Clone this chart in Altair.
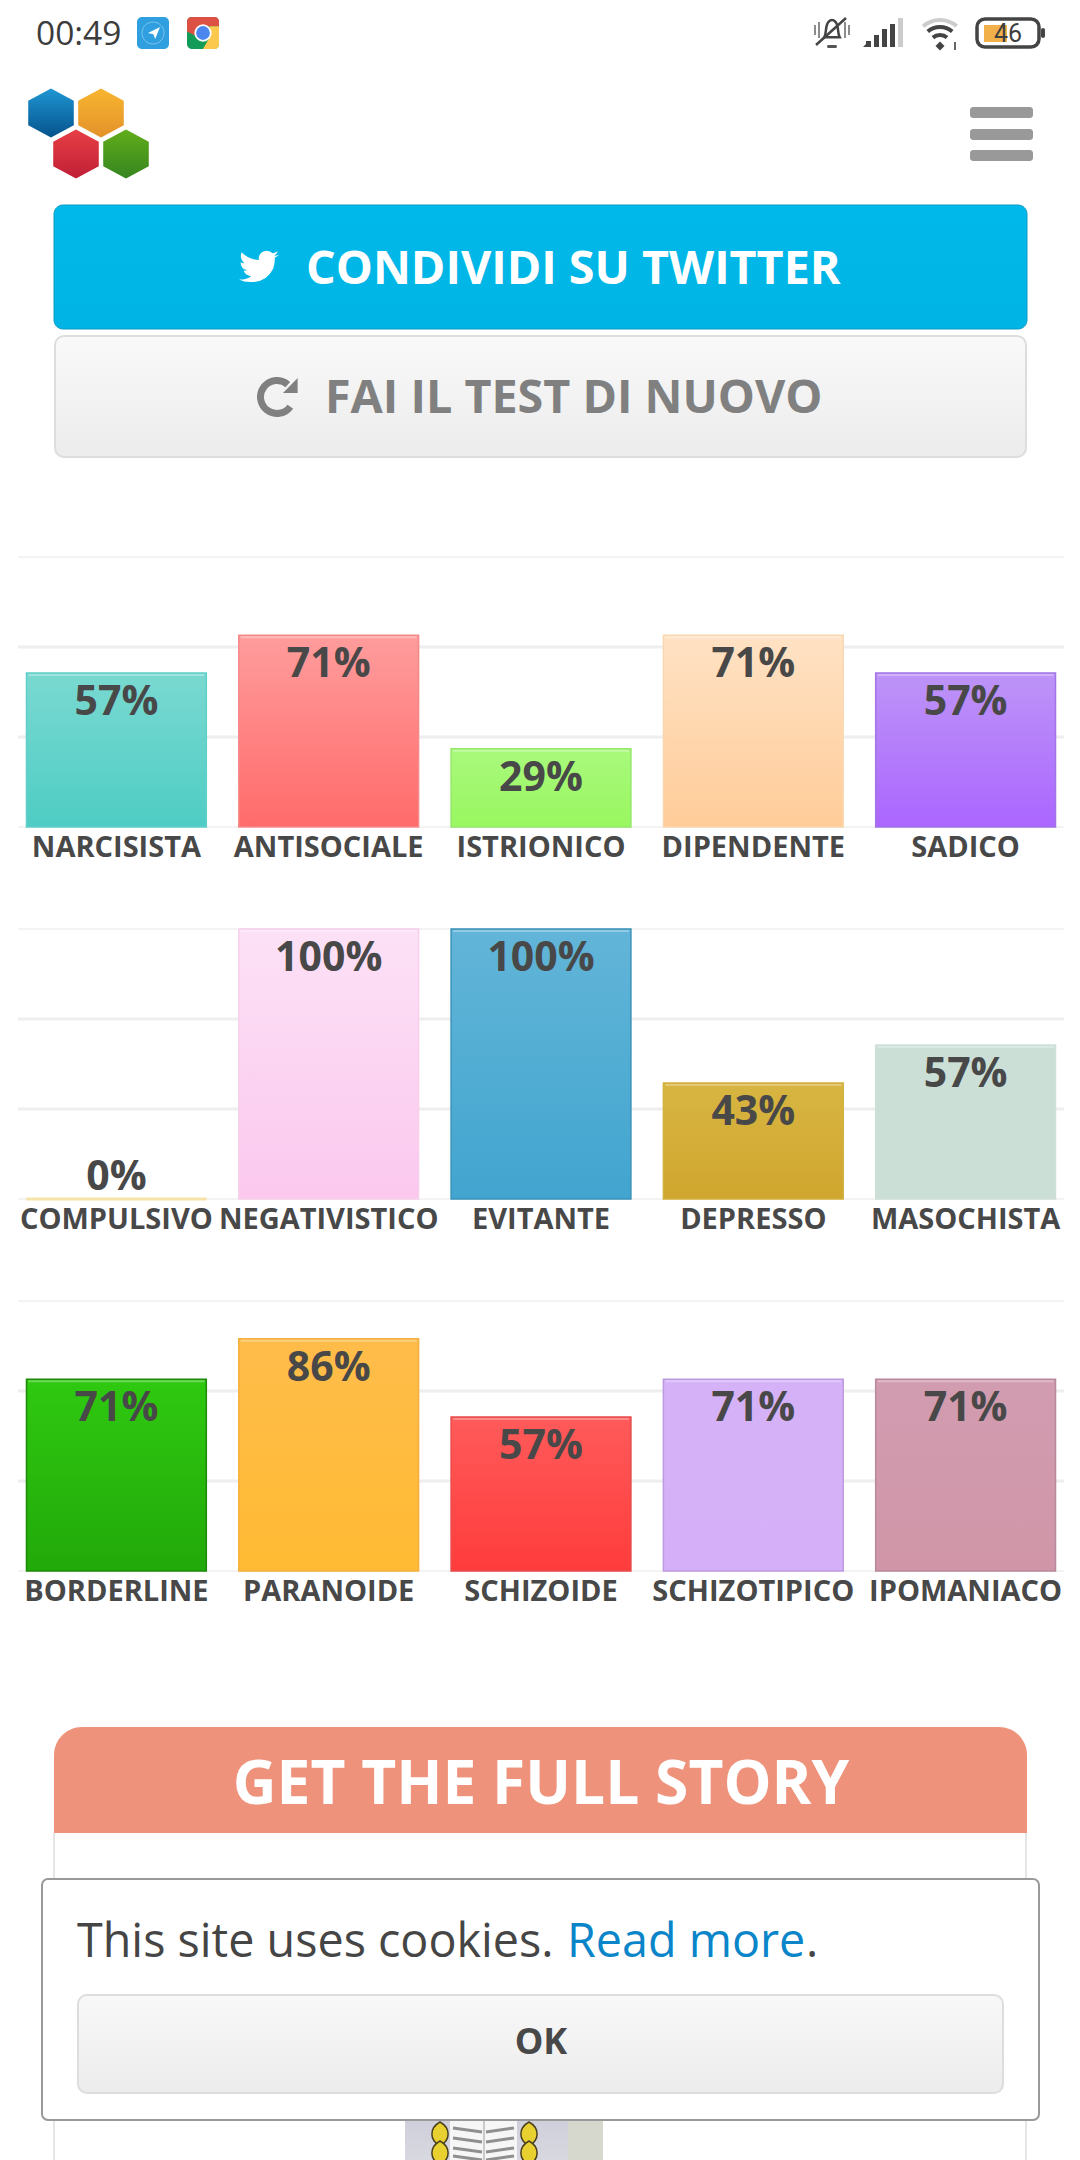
import re
import altair as alt
import pandas as pd

# ---- chart values -------------------------------------------------------
row1_cats = ["NARCISISTA", "ANTISOCIALE", "ISTRIONICO", "DIPENDENTE", "SADICO"]
row1_vals = [57, 71, 29, 71, 57]
row2_cats = ["COMPULSIVO", "NEGATIVISTICO", "EVITANTE", "DEPRESSO", "MASOCHISTA"]
row2_vals = [0, 100, 100, 43, 57]
row3_cats = ["BORDERLINE", "PARANOIDE", "SCHIZOIDE", "SCHIZOTIPICO", "IPOMANIACO"]
row3_vals = [71, 86, 57, 71, 71]

row1_top = ["#7ad9d1", "#ff9c9c", "#a9f97c", "#ffe2c4", "#bd94f7"]
row1_bot = ["#4ecdc4", "#ff6b6b", "#99f760", "#ffcc99", "#ab66ff"]
row1_line = ["#5fcfc7", "#f58a8a", "#93e86a", "#f8d8b0", "#a274e8"]
row2_top = ["#f5e3a8", "#fce1f6", "#62b5d8", "#d8b542", "#cbdfd7"]
row2_bot = ["#f5e3a8", "#fbc8ee", "#42a5cf", "#cfa62e", "#cbdfd7"]
row2_line = ["#f5e3a8", "#f8d0ec", "#3a92b8", "#d4b03c", "#cfe0d9"]
row3_top = ["#2fc910", "#ffbc4a", "#ff5a5a", "#d5b2f8", "#d29cb0"]
row3_bot = ["#22a90a", "#ffbb33", "#ff3c3c", "#d5b0f8", "#d096a8"]
row3_line = ["#1d8a0a", "#f5b040", "#e84a4a", "#bd9ae0", "#b8889c"]

grid_major = [33.33, 66.67]
grid_minor = [0, 100]

FONT = "Open Sans"
INK = "#484848"
PANEL_W = 1046
ORIGIN_X = 18


def grad(top, bottom):
    return alt.LinearGradient(
        gradient="linear", x1=0, x2=0, y1=0, y2=1,
        stops=[alt.GradientStop(color=top, offset=0), alt.GradientStop(color=bottom, offset=1)],
    )


def bar_panel(cats, vals, tops, bots, lines):
    df = pd.DataFrame({"cat": cats, "val": vals, "label": [f"{v}%" for v in vals]})
    x = alt.X(
        "cat:N", title=None, sort=cats,
        scale=alt.Scale(domain=cats, range=[0, PANEL_W], paddingInner=0.153, paddingOuter=0.04),
        axis=alt.Axis(
            labelFont=FONT, labelFontWeight="bold", labelFontSize=29, labelColor=INK,
            labelAngle=0, labelOverlap=False, labelLimit=400, labelPadding=6,
            ticks=False, domain=False, grid=False,
        ),
    )
    y = alt.Y("val:Q", title=None, axis=None, scale=alt.Scale(domain=[0, 100], nice=False))
    yg = alt.Y("g:Q", title=None, axis=None, scale=alt.Scale(domain=[0, 100], nice=False))
    layers = [
        alt.Chart(pd.DataFrame({"g": grid_minor})).mark_rule(color="#efefef", strokeWidth=1.5).encode(y=yg),
        alt.Chart(pd.DataFrame({"g": grid_major})).mark_rule(color="#eeeeee", strokeWidth=3).encode(y=yg),
    ]
    for i, c in enumerate(cats):
        d = df[df["cat"] == c]
        layers.append(
            alt.Chart(d).mark_bar(fill=grad(tops[i], bots[i]), stroke=lines[i], strokeWidth=1.5).encode(x=x, y=y)
        )
        if vals[i] > 0:
            layers.append(
                alt.Chart(d).mark_tick(color="#ffffff", opacity=0.3, thickness=2, size=176, yOffset=2).encode(x=x, y=y)
            )
        else:
            layers.append(
                alt.Chart(d).mark_tick(color=lines[i], opacity=1, thickness=3, size=180).encode(x=x, y=y)
            )
    txt = dict(font=FONT, fontWeight="bold", fontSize=41, color=INK, baseline="alphabetic", align="center")
    layers.append(alt.Chart(df[df["val"] >= 10]).mark_text(dy=42, **txt).encode(x=x, y=y, text="label:N"))
    layers.append(alt.Chart(df[df["val"] < 10]).mark_text(dy=-9, **txt).encode(x=x, y=y, text="label:N"))
    return alt.layer(*layers).properties(width=PANEL_W, height=270)


blank = alt.Data(values=[{}])


class Ui:
    """Interface furniture placed at page pixels, relative to a panel origin."""

    def __init__(self, oy):
        self.oy = oy
        self.layers = []

    def X(self, v):
        return alt.value(v - ORIGIN_X)

    def Y(self, v):
        return alt.value(v - self.oy)

    def rect(self, x, y, x2, y2, fill, **kw):
        self.layers.append(
            alt.Chart(blank).mark_rect(fill=fill, **kw).encode(
                x=self.X(x), x2=self.X(x2), y=self.Y(y), y2=self.Y(y2))
        )

    def text(self, s, x, y, size, color, weight="normal", align="left", font=FONT, **kw):
        self.layers.append(
            alt.Chart(blank).mark_text(
                text=s, fontSize=size, color=color, fontWeight=weight, align=align,
                font=font, baseline="middle", **kw
            ).encode(x=self.X(x), y=self.Y(y))
        )

    def shape(self, path, x, y, width, fill=None, stroke=None, sw=0):
        kw = dict(shape=path, size=width ** 2, opacity=1, strokeWidth=sw)
        kw["fill"] = fill if fill is not None else "transparent"
        kw["stroke"] = stroke if stroke is not None else "transparent"
        self.layers.append(alt.Chart(blank).mark_point(**kw).encode(x=self.X(x), y=self.Y(y)))

    def arc(self, x, y, r, r2, t, t2, fill):
        self.layers.append(
            alt.Chart(blank).mark_arc(radius=r, radius2=r2, theta=t, theta2=t2, fill=fill).encode(
                x=self.X(x), y=self.Y(y))
        )

    def seg(self, x, y, x2, y2, color, sw=2, **kw):
        self.layers.append(
            alt.Chart(blank).mark_rule(color=color, strokeWidth=sw, **kw).encode(
                x=self.X(x), x2=self.X(x2), y=self.Y(y), y2=self.Y(y2))
        )


def unit(path, box=24.0):
    nums = iter(re.findall(r"[A-Za-z]|-?\d*\.?\d+", path))
    out, idx = [], 0
    for tok in nums:
        if tok.isalpha():
            out.append(tok)
            idx = 0
        else:
            out.append(f"{(float(tok) - box / 2) / (box / 2):.3f}")
            idx += 1
    return " ".join(out)


HEX = "M0,-1 L0.93,-0.5 L0.93,0.5 L0,1 L-0.93,0.5 L-0.93,-0.5 Z"
BIRD = unit(
    "M24,4.6 Q22.5,5.2 21.1,5.35 Q22.6,4.4 23.3,2.6 Q21.8,3.5 20.2,3.8 Q18.8,2.3 16.6,2.3 "
    "Q12.6,2.5 11.8,6.5 Q11.8,7.3 12,7.8 Q5.8,7.5 1.6,3.2 Q0.1,6.8 3.2,9.7 Q2,9.7 0.9,9.1 "
    "Q1,13 4.9,14 Q3.8,14.3 2.7,14.1 Q3.9,17.2 7.3,17.5 Q4.2,19.8 0,19.5 Q3.4,21.2 7.6,21 "
    "Q16.5,21 20.5,13 Q21.6,10 21.5,6.4 Q23,5.6 24,4.6 Z"
)
BELL = ("M-0.45,0.42 C-0.3,0.15 -0.42,-0.3 -0.18,-0.5 C-0.08,-0.62 0.08,-0.62 0.18,-0.5 "
        "C0.42,-0.3 0.3,0.15 0.45,0.42 Z")

# ---- header ------------------------------------------------------------
h = Ui(8)
h.text("00:49", 36, 35, 33.5, "#3c3c3c")
# telegram icon
h.rect(137, 17, 169, 49, "#2f9fe0", cornerRadius=5)
h.shape("M0,-1 C0.55,-1 1,-0.55 1,0 C1,0.55 0.55,1 0,1 C-0.55,1 -1,0.55 -1,0 C-1,-0.55 -0.55,-1 0,-1 Z",
        153, 33, 22, stroke="#7cc3ec", sw=1)
h.shape("M1,-1 L0.2,1 L-0.1,0.2 L-1,0 Z", 154, 33, 12, fill="#ffffff")
# chrome icon
h.rect(187, 17, 219, 49, "#129c57", cornerRadius=5)
h.shape("M-1,-0.1 L-1,-0.7 Q-1,-1 -0.7,-1 L0.7,-1 Q1,-1 1,-0.7 L1,-0.42 L0,-0.42 Q-0.35,-0.42 -0.5,0.15 Z",
        203, 33, 32, fill="#dd5144")
h.shape("M1,-0.42 L1,0.7 Q1,1 0.7,1 L0,1 L0.45,0.2 L0.4,-0.42 Z", 203, 33, 32, fill="#fbc94d")
h.layers.append(alt.Chart(blank).mark_point(shape="circle", size=300, filled=True, fill="#ffffff", opacity=1)
                .encode(x=h.X(203), y=h.Y(33)))
h.layers.append(alt.Chart(blank).mark_point(shape="circle", size=190, filled=True, fill="#4a86ee", opacity=1)
                .encode(x=h.X(203), y=h.Y(33)))
# bell, crossed
h.shape(BELL, 832, 30, 34, stroke="#444444", sw=2.5)
h.rect(827, 45, 837, 48, "#555555", cornerRadius=1.5)
h.seg(816, 45, 846, 18, "#444444", 2.5)
for vx, yy in ((815, 5), (819, 8), (845, 8), (849, 5)):
    h.seg(vx, 30 - yy, vx, 30 + yy, "#666666", 1.5)
# signal
for sx, sx2, top, col in ((866, 871, 41, "#444444"), (874, 879, 35, "#444444"), (882, 887, 29, "#444444"),
                          (890, 895, 24, "#444444"), (898, 903, 18, "#cccccc")):
    h.rect(sx, top, sx2, 47, col)
h.shape("M1,1 L1,-1 L-1,1 Z", 866, 44, 6, fill="#444444")
# wifi
h.arc(940, 46, 28, 24, 5.58, 6.98, "#cccccc")
h.arc(940, 46, 21, 17, 5.58, 6.98, "#444444")
h.arc(940, 46, 13, 9, 5.58, 6.98, "#444444")
h.shape("M0,1 L1,0 L0,-1 L-1,0 Z", 940, 46, 9, fill="#444444")
h.seg(955, 42, 955, 50, "#666666", 2)
# battery
h.rect(977, 19, 1039, 47, "#ffffff", stroke="#444444", strokeWidth=3.5, cornerRadius=8)
h.rect(984, 25, 1007, 42, "#f2b04a")
h.rect(1041, 28, 1045, 38, "#444444", cornerRadius=2)
h.text("46", 1008, 34, 25, "#3f3f3f", align="center", font="Roboto", fontStyle="normal")
# logo
for hx, hy, t, b in ((51, 113, "#1f96d3", "#05538c"), (101, 113, "#f8b530", "#e3922a"),
                     (76, 154, "#e73f45", "#c01f36"), (126, 154, "#62ad1a", "#35851f")):
    h.shape(HEX, hx, hy, 49, fill=grad(t, b))
# hamburger
for hy in (107, 129, 150):
    h.rect(970, hy, 1033, hy + 11, "#999999", cornerRadius=3)
# twitter button
h.rect(54, 205, 1027, 329, grad("#00b8ea", "#00b5e5"), stroke="#0a9ac4", strokeWidth=1, cornerRadius=9)
h.shape(BIRD, 259, 267, 40, fill="#ffffff")
h.text("CONDIVIDI SU TWITTER", 306, 270, 46.7, "#ffffff", "bold")
# retest button
h.rect(55, 336, 1026, 457, grad("#f9f9f9", "#ececec"), stroke="#dddddd", strokeWidth=2, cornerRadius=9)
h.arc(277, 397, 20, 13, 2.2, 7.0, "#808080")
h.shape("M0.51,-0.53 L0.51,0.47 L-0.47,0.47 Z", 290, 386, 30, fill="#808080")
h.text("FAI IL TEST DI NUOVO", 325, 399, 46.7, "#808080", "bold")
header = alt.layer(*h.layers).properties(width=PANEL_W, height=447)

# ---- footer ------------------------------------------------------------
f = Ui(1673)
f.seg(54, 1833, 54, 2160, "#dddddd", 1.5)
f.seg(1026, 1833, 1026, 2160, "#dddddd", 1.5)
f.rect(54, 1727, 1027, 1833, "#ef927b", cornerRadiusTopLeft=28, cornerRadiusTopRight=28)
f.text("GET THE FULL STORY", 541, 1786, 60.5, "#ffffff", "bold", align="center")
# book cover below the cookie box
f.rect(405, 2118, 568, 2160, grad("#cfcfdb", "#d8d8e0"))
f.rect(568, 2118, 603, 2160, "#d6d8ce")
f.rect(450, 2118, 517, 2160, "#f6f6f6")
f.seg(484, 2118, 484, 2160, "#bbbbbb", 1.5)
for ly in (2128, 2138, 2148, 2156):
    f.seg(453, ly, 482, ly + 4, "#8f8f8f", 3)
    f.seg(486, ly + 4, 514, ly, "#8f8f8f", 3)
LEAF = "M0,-1 C0.9,-0.5 0.9,0.5 0,1 C-0.9,0.5 -0.9,-0.5 0,-1 Z"
for lx, ly in ((440, 2134), (440, 2153), (529, 2134), (529, 2153)):
    f.shape(LEAF, lx, ly, 24, fill="#e8d030", stroke="#4a4020", sw=1.5)
# cookie notice
f.rect(42, 1879, 1039, 2120, "#ffffff", stroke="#999999", strokeWidth=2, cornerRadius=6)
f.text("This site uses cookies. ", 77, 1943, 46.7, "#454545")
f.text("Read more", 567, 1943, 46.7, "#0a85c9")
f.text(".", 806, 1943, 46.7, "#454545")
f.rect(78, 1995, 1003, 2093, grad("#f8f8f8", "#ececec"), stroke="#dddddd", strokeWidth=2, cornerRadius=9)
f.text("OK", 541, 2043, 36, "#484848", "bold", align="center")
footer = alt.layer(*f.layers).properties(width=PANEL_W, height=487)

# ---- page --------------------------------------------------------------
chart = alt.vconcat(
    header,
    bar_panel(row1_cats, row1_vals, row1_top, row1_bot, row1_line),
    bar_panel(row2_cats, row2_vals, row2_top, row2_bot, row2_line),
    bar_panel(row3_cats, row3_vals, row3_top, row3_bot, row3_line),
    footer,
    spacing=102,
    bounds="flush",
    padding={"left": 8, "top": 0, "right": 0, "bottom": 0},
).resolve_scale(x="independent", y="independent").configure_view(stroke=None)

chart.save("out.html", embed_options={"renderer": "svg", "actions": False})
